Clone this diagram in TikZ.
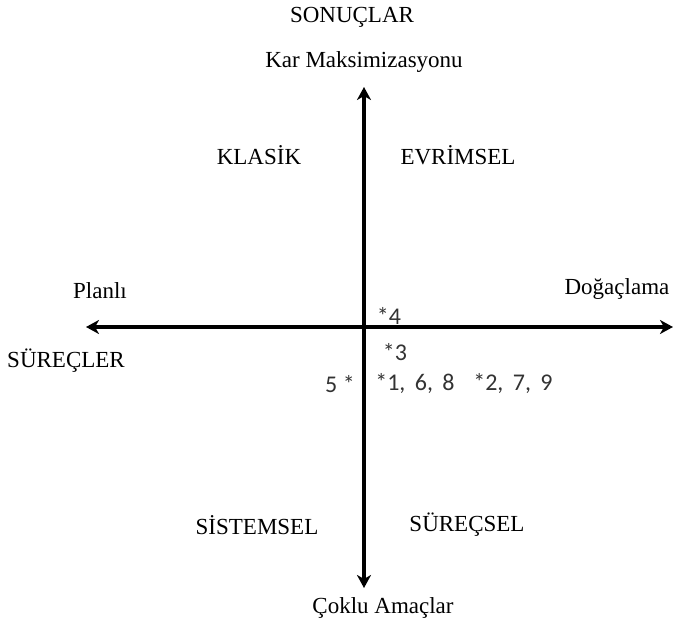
\documentclass[tikz,border=0pt]{standalone}
\usepackage{fontspec}
\setmainfont{Liberation Serif}
\newfontfamily\numfont{Carlito}
\usetikzlibrary{arrows.meta}

\begin{document}
\begin{tikzpicture}[x=1pt,y=-1pt,
		lbl/.style={font=\fontsize{23}{26}\selectfont, inner sep=0pt},
		num/.style={font=\numfont\fontsize{24}{27}\selectfont, text=black!80, inner sep=0pt},
		axis/.style={-{Stealth[length=13pt,width=14pt,inset=4pt]}, line width=#1},
		axis/.default=4pt]
		\useasboundingbox (0,0) rectangle (673,623);
		% axis end points
		\coordinate (west) at (86,327);
		\coordinate (east) at (673,327);
		\coordinate (north) at (364,87);
		\coordinate (south) at (364,588);
		\coordinate (mid) at (364,327);
		% axes
		\draw[axis=4.5pt] (mid) -- (west);
		\draw[axis=4.5pt] (mid) -- (east);
		\draw[axis=3.5pt] (mid) -- (north);
		\draw[axis=3.5pt] (mid) -- (south);
		% axis labels
		\node[lbl] (sonuc) at (352,17) {SONUÇLAR};
		\node[lbl] (kar) at (364,62) {Kar Maksimizasyonu};
		\node[lbl] (planli) at (100,291) {Planlı};
		\node[lbl] (dogac) at (617,289) {Doğaçlama};
		\node[lbl] (surec) at (66,361) {SÜREÇLER};
		\node[lbl] (coklu) at (383,608) {Çoklu Amaçlar};
		% quadrants
		\node[lbl] (klasik) at (259,155) {KLASİK};
		\node[lbl] (evrim) at (458,155) {EVRİMSEL};
		\node[lbl] (sistem) at (257,525) {SİSTEMSEL};
		\node[lbl] (surecsel) at (467,525) {SÜREÇSEL};
		% marks
		\node[num] (m4) at (389,316) {*4};
		\node[num] (m3) at (395,352) {*3};
		\node[num] (m5) at (340,384) {5 *};
		\node[num] (m168) at (415,384) {*1,\, 6,\, 8};
		\node[num] (m279) at (513,384) {*2,\, 7,\, 9};
	\end{tikzpicture}
\end{document}
